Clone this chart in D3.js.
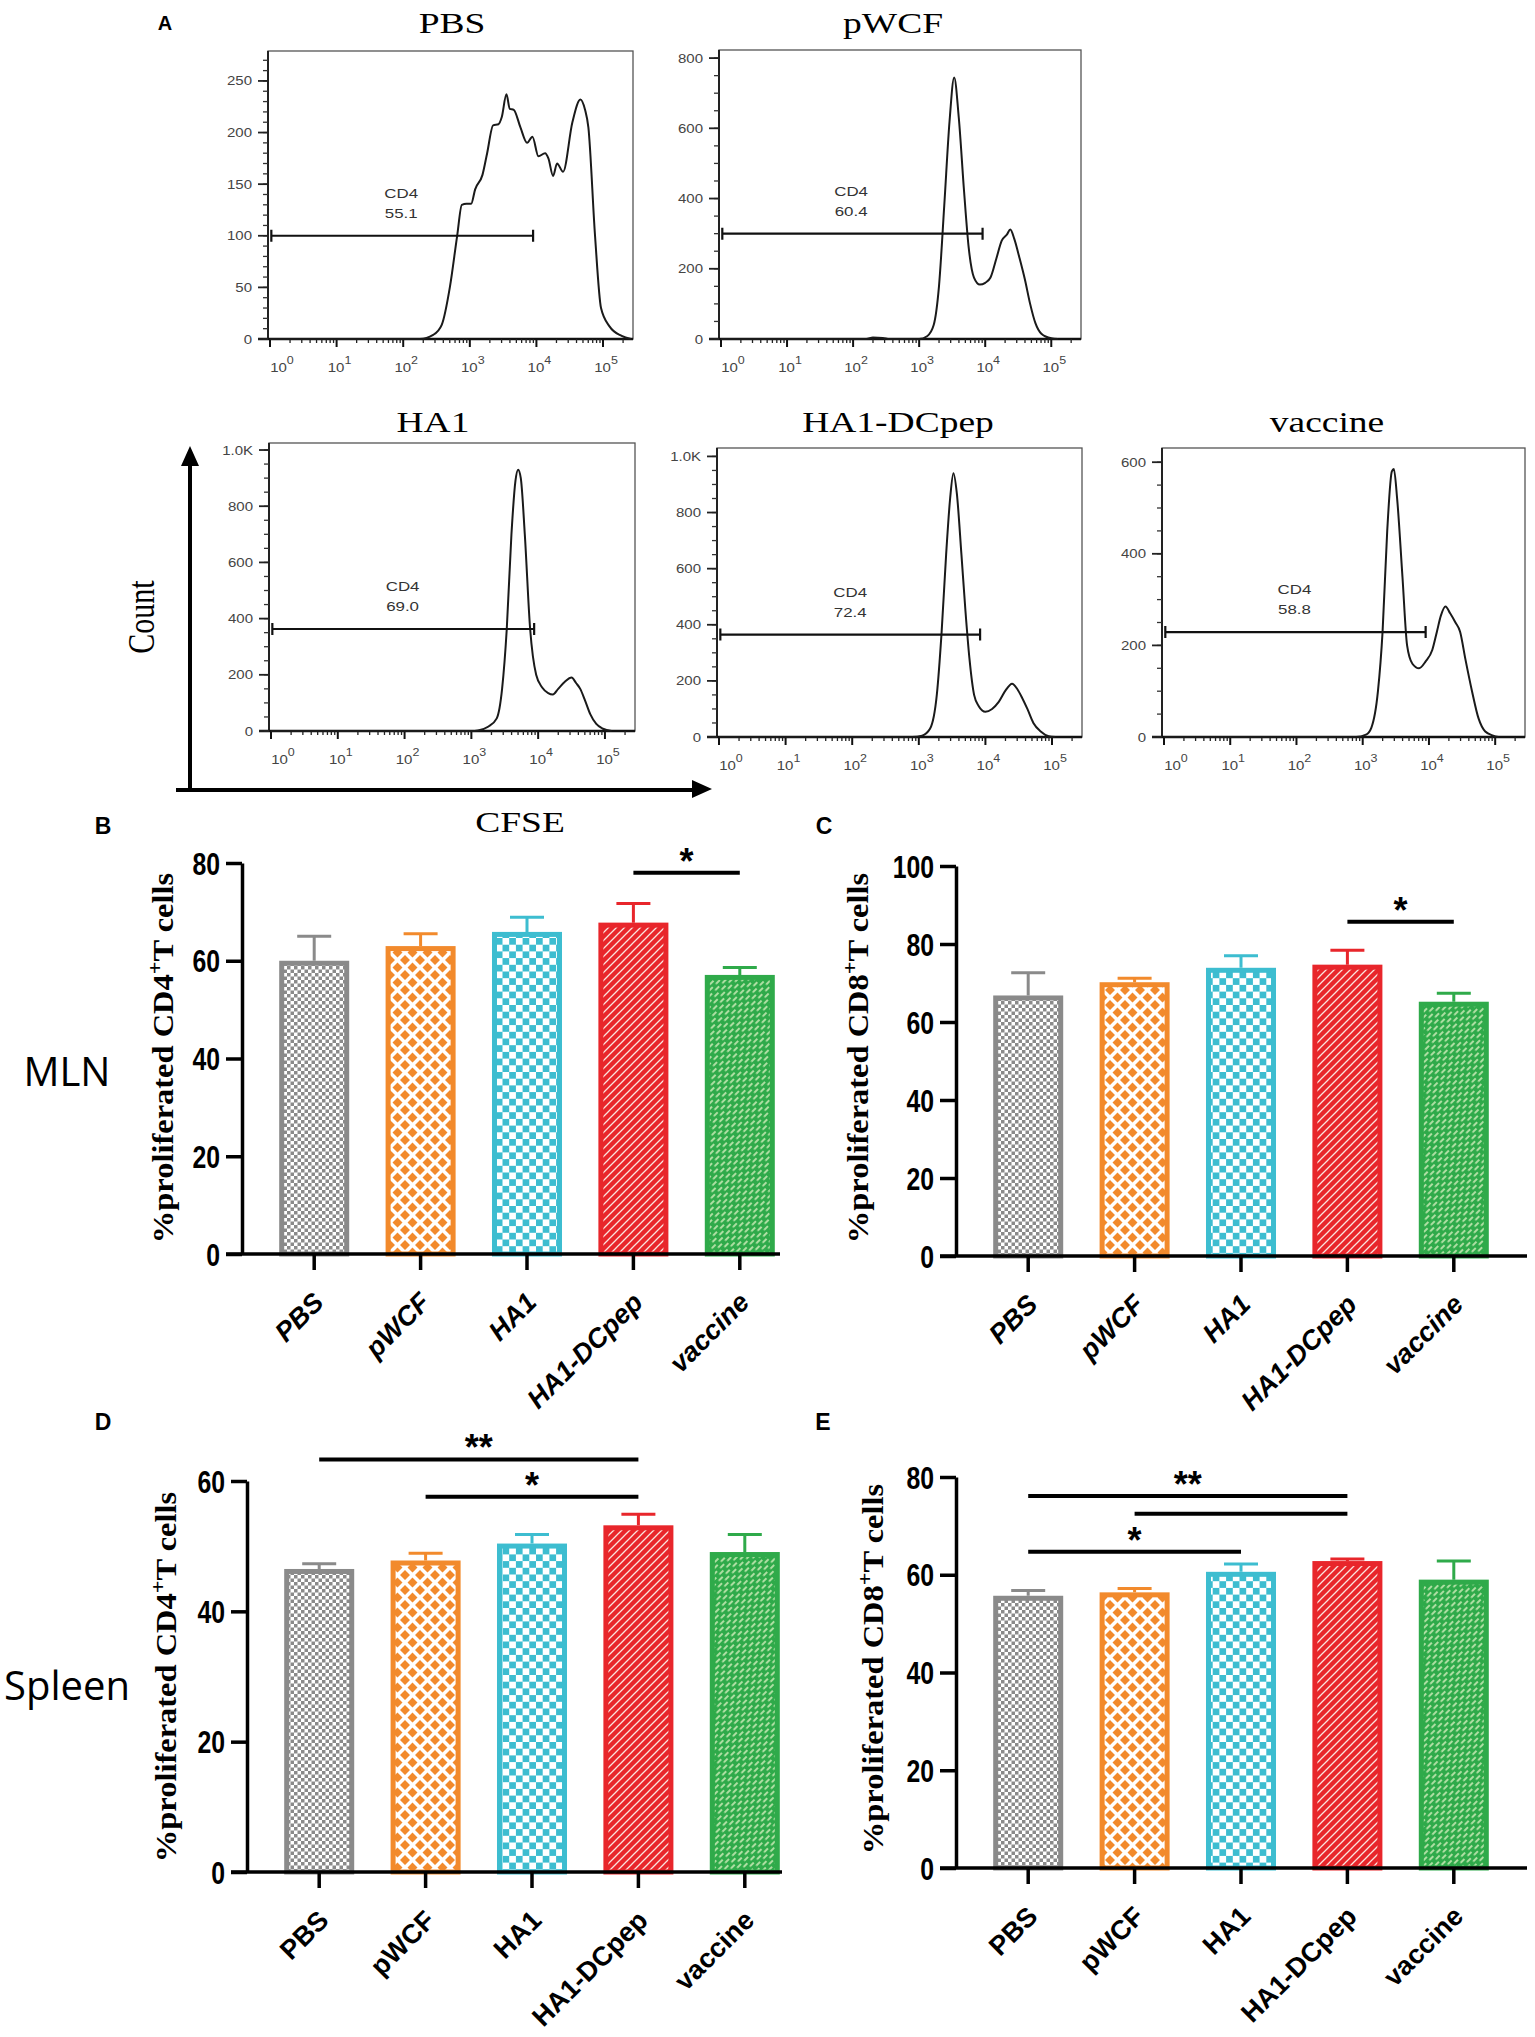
<!DOCTYPE html>
<html>
<head>
<meta charset="utf-8">
<script src="https://cdn.jsdelivr.net/npm/d3@7"></script>
<style>
  body { margin: 0; background: #fff; }
  svg { display: block; }
</style>
</head>
<body>
<svg id="fig" width="1535" height="2037"></svg>
<script>
// ---- panel A: CFSE histograms (x = log10 CFSE, y = count) ----
const histTitles = ['PBS', 'pWCF', 'HA1', 'HA1-DCpep', 'vaccine'];
const histGateName = 'CD4';
const histGatePct = ['55.1', '60.4', '69.0', '72.4', '58.8'];
const histGateCount = [100, 300, 363, 365, 229];
const histGateEnd = [3.95, 3.96, 3.94, 3.92, 3.95];
const histCountMax = [279, 823, 1025, 1030, 631];
const histCountTicks = [[0, 50, 100, 150, 200, 250], [0, 200, 400, 600, 800], [0, 200, 400, 600, 800, 1000], [0, 200, 400, 600, 800, 1000], [0, 200, 400, 600]];
const histMinorStep = [10, 50, 50, 50, 50];
const decades = [0, 1, 2, 3, 4, 5];

const histPBS = [[0, 0], [2.25, 0], [2.45, 4], [2.58, 14], [2.7, 50], [2.81, 100], [2.88, 130], [2.95, 131], [3.02, 131], [3.08, 145], [3.19, 159], [3.26, 180], [3.35, 207], [3.43, 208], [3.48, 215], [3.55, 237], [3.6, 223], [3.66, 222], [3.76, 205], [3.86, 190], [3.94, 196], [4.03, 177], [4.13, 180], [4.18, 175], [4.25, 158], [4.31, 170], [4.4, 162], [4.54, 210], [4.66, 232], [4.73, 222], [4.78, 205], [4.88, 100], [4.97, 30], [5.1, 12], [5.28, 3], [5.42, 0]];
const histPWCF = [[0, 0], [2.2, 0], [2.3, 4], [2.45, 3], [2.55, 0], [3.0, 0], [3.12, 8], [3.22, 40], [3.3, 150], [3.38, 380], [3.46, 620], [3.53, 745], [3.6, 630], [3.68, 420], [3.75, 260], [3.83, 175], [3.92, 155], [4.0, 160], [4.08, 175], [4.17, 230], [4.25, 280], [4.33, 298], [4.38, 312], [4.44, 285], [4.52, 230], [4.6, 170], [4.68, 100], [4.76, 45], [4.85, 15], [5.0, 2], [5.1, 0]];
const histHA1 = [[0, 0], [3.0, 0], [3.1, 2], [3.25, 15], [3.38, 45], [3.46, 150], [3.53, 363], [3.6, 700], [3.66, 890], [3.7, 930], [3.74, 900], [3.8, 700], [3.88, 363], [3.97, 200], [4.06, 155], [4.15, 135], [4.22, 130], [4.3, 150], [4.4, 175], [4.5, 190], [4.57, 170], [4.63, 150], [4.7, 110], [4.78, 60], [4.87, 25], [4.97, 8], [5.1, 0]];
const histDCpep = [[0, 0], [2.9, 0], [3.05, 5], [3.17, 30], [3.27, 150], [3.34, 365], [3.41, 650], [3.47, 850], [3.52, 940], [3.57, 870], [3.64, 650], [3.7, 450], [3.76, 280], [3.83, 150], [3.9, 110], [4.0, 90], [4.1, 100], [4.2, 125], [4.3, 165], [4.4, 190], [4.48, 170], [4.55, 140], [4.63, 100], [4.72, 50], [4.83, 20], [4.95, 3], [5.05, 0]];
const histVaccine = [[0, 0], [2.9, 0], [3.05, 5], [3.13, 20], [3.23, 100], [3.3, 230], [3.37, 450], [3.44, 580], [3.47, 585], [3.52, 520], [3.6, 350], [3.67, 200], [3.75, 160], [3.85, 150], [3.95, 165], [4.05, 190], [4.12, 230], [4.18, 265], [4.25, 285], [4.32, 270], [4.4, 250], [4.47, 230], [4.55, 170], [4.65, 100], [4.75, 40], [4.85, 12], [4.97, 3], [5.05, 0]];
const histSeries = [histPBS, histPWCF, histHA1, histDCpep, histVaccine];

// ---- panels B-E: % proliferated T cells, mean and SEM ----
const groups = ['PBS', 'pWCF', 'HA1', 'HA1-DCpep', 'vaccine'];
const mlnCD4Mean = [60.0, 63.0, 65.9, 67.8, 57.1];
const mlnCD4Err = [5.0, 2.5, 3.0, 3.9, 1.5];
const mlnCD8Mean = [66.8, 70.2, 73.9, 74.7, 65.2];
const mlnCD8Err = [5.8, 1.0, 3.1, 3.7, 2.2];
const spleenCD4Mean = [46.5, 47.8, 50.4, 53.2, 49.1];
const spleenCD4Err = [0.8, 1.1, 1.4, 1.7, 2.7];
const spleenCD8Mean = [55.7, 56.4, 60.6, 62.8, 59.0];
const spleenCD8Err = [1.1, 0.8, 1.6, 0.4, 3.8];
const mlnCD4Sig = [{ a: 3, b: 4, level: 78, mark: '*' }];
const mlnCD8Sig = [{ a: 3, b: 4, level: 85.7, mark: '*' }];
const spleenCD4Sig = [{ a: 0, b: 3, level: 63.3, mark: '**' }, { a: 1, b: 3, level: 57.6, mark: '*' }];
const spleenCD8Sig = [{ a: 0, b: 3, level: 76.1, mark: '**' }, { a: 1, b: 3, level: 72.5, mark: '' }, { a: 0, b: 2, level: 64.7, mark: '*' }];

const barColors = ['#8a8a8a', '#f28a2c', '#3dbdd0', '#e8262b', '#2faa4a'];

const SANS = "'Liberation Sans', Arial, sans-serif";
const SERIF = "'Liberation Serif', 'Times New Roman', serif";
const SX = 1.25; // panel A text is drawn wide in the source figure

const svg = d3.select('#fig');
svg.append('rect').attr('width', 1535).attr('height', 2037).attr('fill', '#fff');

// ---------- fill patterns ----------
const defs = svg.append('defs');
function pattern(id, w, h) {
  return defs.append('pattern').attr('id', id)
    .attr('patternUnits', 'userSpaceOnUse').attr('width', w).attr('height', h);
}
let p = pattern('pat0', 7, 7);
p.append('rect').attr('width', 7).attr('height', 7).attr('fill', '#fff');
p.append('rect').attr('width', 3.5).attr('height', 3.5).attr('fill', barColors[0]);
p.append('rect').attr('x', 3.5).attr('y', 3.5).attr('width', 3.5).attr('height', 3.5).attr('fill', barColors[0]);

p = pattern('pat1', 15, 15);
p.append('rect').attr('width', 15).attr('height', 15).attr('fill', '#fff');
p.append('path').attr('fill', barColors[1])
  .attr('d', 'M7.5,2.5 L12.5,7.5 L7.5,12.5 L2.5,7.5Z M0,-5 L5,0 L0,5 L-5,0Z M15,-5 L20,0 L15,5 L10,0Z M0,10 L5,15 L0,20 L-5,15Z M15,10 L20,15 L15,20 L10,15Z');

p = pattern('pat2', 13.4, 13.4);
p.append('rect').attr('width', 13.4).attr('height', 13.4).attr('fill', '#fff');
p.append('rect').attr('width', 6.7).attr('height', 6.7).attr('fill', barColors[2]);
p.append('rect').attr('x', 6.7).attr('y', 6.7).attr('width', 6.7).attr('height', 6.7).attr('fill', barColors[2]);

p = pattern('pat3', 8, 8);
p.append('rect').attr('width', 8).attr('height', 8).attr('fill', barColors[3]);
p.append('path').attr('stroke', '#fbe3de').attr('stroke-width', 1.3)
  .attr('d', 'M-2,2 L2,-2 M0,8 L8,0 M6,10 L10,6');

p = pattern('pat4', 10, 8).attr('patternTransform', 'rotate(-45)');
p.append('rect').attr('width', 10).attr('height', 8).attr('fill', barColors[4]);
p.append('path').attr('stroke', '#d6efbf').attr('stroke-width', 1.6).attr('fill', 'none')
  .attr('d', 'M0.5,2 L6,2 M5.5,6 L11,6 M-4.5,6 L1,6');

// ---------- helpers ----------
function wideText(g, x, y, str, size, family, anchor) {
  return g.append('text')
    .attr('transform', `translate(${x},${y}) scale(${SX},1)`)
    .attr('font-family', family).attr('font-size', size)
    .attr('text-anchor', anchor || 'middle')
    .text(str);
}

// ---------- panel A ----------
const histLayout = [
  { x: 268, y: 51, w: 365, h: 288, tx: 452, ty: 33 },
  { x: 719, y: 50, w: 362, h: 289, tx: 893, ty: 33 },
  { x: 269, y: 443, w: 366, h: 288, tx: 433, ty: 432 },
  { x: 717, y: 448, w: 365, h: 289, tx: 898, ty: 432 },
  { x: 1162, y: 448, w: 363, h: 289, tx: 1327, ty: 432 }
];

histSeries.forEach(function(series, i) {
  const box = histLayout[i];
  const g = svg.append('g').attr('class', 'hist');
  const xs = d3.scaleLog().domain([Math.pow(10, -0.03), Math.pow(10, 5.45)]).range([box.x, box.x + box.w]);
  const ys = d3.scaleLinear().domain([0, histCountMax[i]]).range([box.y + box.h, box.y]);
  const yb = box.y + box.h;

  wideText(g, box.tx, box.ty, histTitles[i], 30, SERIF);

  g.append('rect').attr('x', box.x).attr('y', box.y).attr('width', box.w).attr('height', box.h)
    .attr('fill', 'none').attr('stroke', '#555').attr('stroke-width', 1.3);
  g.append('line').attr('x1', box.x).attr('x2', box.x).attr('y1', box.y).attr('y2', yb)
    .attr('stroke', '#222').attr('stroke-width', 2);
  g.append('line').attr('x1', box.x - 10).attr('x2', box.x + box.w).attr('y1', yb).attr('y2', yb)
    .attr('stroke', '#111').attr('stroke-width', 2.6);

  // count axis
  const minor = d3.range(0, histCountMax[i], histMinorStep[i]);
  g.selectAll('line.ymin').data(minor).join('line').attr('class', 'ymin')
    .attr('x1', box.x - 5).attr('x2', box.x).attr('y1', d => ys(d)).attr('y2', d => ys(d))
    .attr('stroke', '#333').attr('stroke-width', 1.3);
  histCountTicks[i].forEach(function(v) {
    g.append('line').attr('x1', box.x - 10).attr('x2', box.x).attr('y1', ys(v)).attr('y2', ys(v))
      .attr('stroke', '#222').attr('stroke-width', 1.8);
    wideText(g, box.x - 16, ys(v) + 4.5, v >= 1000 ? (v / 1000).toFixed(1) + 'K' : String(v), 12, SANS, 'end')
      .attr('fill', '#444');
  });

  // CFSE log axis
  decades.forEach(function(k) {
    const px = xs(Math.pow(10, k));
    g.append('line').attr('x1', px).attr('x2', px).attr('y1', yb).attr('y2', yb + 8)
      .attr('stroke', '#111').attr('stroke-width', 2);
    for (let m = 2; m <= 9; m++) {
      const v = m * Math.pow(10, k);
      if (Math.log10(v) > 5.45) break;
      g.append('line').attr('x1', xs(v)).attr('x2', xs(v)).attr('y1', yb).attr('y2', yb + 4)
        .attr('stroke', '#222').attr('stroke-width', 1.3);
    }
    const t = g.append('text')
      .attr('transform', `translate(${px + (k === 0 ? 12 : 3)},${yb + 33}) scale(${SX},1)`)
      .attr('font-family', SANS).attr('font-size', 12).attr('fill', '#444')
      .attr('text-anchor', 'middle');
    t.append('tspan').text('10');
    t.append('tspan').attr('dy', -8).attr('font-size', 10).text(k);
  });

  // histogram trace
  const line = d3.line()
    .x(d => xs(Math.pow(10, d[0])))
    .y(d => ys(d[1]))
    .curve(d3.curveMonotoneX);
  g.append('path').datum(series).attr('d', line)
    .attr('fill', 'none').attr('stroke', '#1a1a1a').attr('stroke-width', 2);

  // gate
  const gy = ys(histGateCount[i]);
  const gx0 = xs(Math.pow(10, 0.02));
  const gx1 = xs(Math.pow(10, histGateEnd[i]));
  g.append('path')
    .attr('d', `M${gx0},${gy}H${gx1}M${gx0},${gy - 6}V${gy + 6}M${gx1},${gy - 6}V${gy + 6}`)
    .attr('stroke', '#111').attr('stroke-width', 2.2).attr('fill', 'none');
  const gc = xs(Math.pow(10, 1.97));
  wideText(g, gc, gy - 38, histGateName, 13.5, SANS).attr('fill', '#333');
  wideText(g, gc, gy - 18, histGatePct[i], 13.5, SANS).attr('fill', '#333');
});

// axis arrows and labels of panel A
const arrows = svg.append('g');
arrows.append('path').attr('d', 'M190,790 V462 M176,790 H697')
  .attr('stroke', '#000').attr('stroke-width', 4).attr('fill', 'none');
arrows.append('path').attr('d', 'M190,446 L181,466 L199,466Z M712,789 L692,780 L692,798Z').attr('fill', '#000');
svg.append('text')
  .attr('transform', `translate(154,617) scale(${SX},1) rotate(-90)`)
  .attr('font-family', SERIF).attr('font-size', 30).attr('text-anchor', 'middle').text('Count');
wideText(svg, 520, 832, 'CFSE', 30, SERIF);

// ---------- panels B-E ----------
const barPanels = [
  { mean: mlnCD4Mean, err: mlnCD4Err, sig: mlnCD4Sig, cell: 'CD4', yMax: 80, step: 20,
    axisX: 242, y0: 1254, yTop: 863, xEnd: 780, italic: true, labX: 173, labY: 1058 },
  { mean: mlnCD8Mean, err: mlnCD8Err, sig: mlnCD8Sig, cell: 'CD8', yMax: 100, step: 20,
    axisX: 956, y0: 1256, yTop: 866, xEnd: 1527, italic: true, labX: 868, labY: 1058 },
  { mean: spleenCD4Mean, err: spleenCD4Err, sig: spleenCD4Sig, cell: 'CD4', yMax: 60, step: 20,
    axisX: 247, y0: 1872, yTop: 1481, xEnd: 782, italic: false, labX: 176, labY: 1677 },
  { mean: spleenCD8Mean, err: spleenCD8Err, sig: spleenCD8Sig, cell: 'CD8', yMax: 80, step: 20,
    axisX: 956, y0: 1868, yTop: 1477, xEnd: 1527, italic: false, labX: 883, labY: 1669 }
];

barPanels.forEach(function(cfg) {
  const g = svg.append('g').attr('class', 'bars');
  const x = d3.scaleBand().domain(groups)
    .range([cfg.axisX + 19, cfg.axisX + 19 + 532])
    .paddingInner(0.342).paddingOuter(0.171);
  const y = d3.scaleLinear().domain([0, cfg.yMax]).range([cfg.y0, cfg.yTop]);
  const bw = x.bandwidth();
  const cx = d => x(d) + bw / 2;

  // bars
  g.selectAll('rect.bar').data(groups).join('rect').attr('class', 'bar')
    .attr('x', d => x(d) + 2.5)
    .attr('y', (d, i) => y(cfg.mean[i]) + 2.5)
    .attr('width', bw - 5)
    .attr('height', (d, i) => cfg.y0 - y(cfg.mean[i]) - 2.5)
    .attr('fill', (d, i) => `url(#pat${i})`)
    .attr('stroke', (d, i) => barColors[i])
    .attr('stroke-width', 5);

  // error bars
  g.selectAll('path.err').data(groups).join('path').attr('class', 'err')
    .attr('d', function(d, i) {
      const top = y(cfg.mean[i] + cfg.err[i]);
      return `M${cx(d)},${y(cfg.mean[i])}V${top}M${cx(d) - 17},${top}H${cx(d) + 17}`;
    })
    .attr('stroke', (d, i) => barColors[i]).attr('stroke-width', 3).attr('fill', 'none');

  // y axis
  const yAxis = g.append('g').attr('transform', `translate(${cfg.axisX},0)`)
    .call(d3.axisLeft(y).tickValues(d3.range(0, cfg.yMax + 1, cfg.step)).tickSize(16).tickSizeOuter(0));
  yAxis.select('.domain').attr('stroke', '#000').attr('stroke-width', 3.5);
  yAxis.selectAll('.tick line').attr('stroke', '#000').attr('stroke-width', 3.5);
  // the source uses a condensed bold face: squeeze Liberation Sans Bold
  yAxis.selectAll('.tick text')
    .attr('x', 0).attr('dy', '0.36em')
    .attr('transform', 'translate(-22,0) scale(0.8,1)')
    .attr('font-family', SANS).attr('font-weight', 'bold').attr('font-size', 31)
    .attr('fill', '#000');

  // x axis
  const xAxis = g.append('g').attr('transform', `translate(0,${cfg.y0})`)
    .call(d3.axisBottom(x).tickSize(16).tickSizeOuter(0));
  xAxis.select('.domain').remove();
  xAxis.selectAll('.tick line').attr('stroke', '#000').attr('stroke-width', 3.5);
  xAxis.selectAll('.tick text')
    .attr('x', 0).attr('y', 0).attr('dy', 0)
    .attr('transform', 'translate(11,50) rotate(-45)')
    .attr('text-anchor', 'end')
    .attr('font-family', SANS).attr('font-weight', 'bold').attr('font-size', 27)
    .attr('font-style', cfg.italic ? 'italic' : 'normal')
    .attr('fill', '#000');
  g.append('line').attr('x1', cfg.axisX - 16).attr('x2', cfg.xEnd).attr('y1', cfg.y0).attr('y2', cfg.y0)
    .attr('stroke', '#000').attr('stroke-width', 3.5);

  // significance brackets
  cfg.sig.forEach(function(s) {
    const ly = y(s.level);
    const x0 = cx(groups[s.a]);
    const x1 = cx(groups[s.b]);
    g.append('line').attr('x1', x0).attr('x2', x1).attr('y1', ly).attr('y2', ly)
      .attr('stroke', '#000').attr('stroke-width', 4);
    if (s.mark) {
      g.append('text').attr('x', (x0 + x1) / 2).attr('y', ly + 1)
        .attr('text-anchor', 'middle').attr('font-family', SANS).attr('font-weight', 'bold')
        .attr('font-size', 36).text(s.mark);
    }
  });

  // y label
  const lab = g.append('text')
    .attr('transform', `translate(${cfg.labX},${cfg.labY}) rotate(-90) scale(1.12,1)`)
    .attr('font-family', SERIF).attr('font-weight', 'bold').attr('font-size', 29)
    .attr('text-anchor', 'middle');
  lab.append('tspan').text('%proliferated ' + cfg.cell);
  lab.append('tspan').attr('dy', -11).attr('font-size', 20).text('+');
  lab.append('tspan').attr('dy', 11).text('T cells');
});

// panel letters and tissue labels
const letters = [['A', 165, 30, 20], ['B', 103, 834, 23], ['C', 824, 834, 23], ['D', 103, 1430, 23], ['E', 823, 1430, 23]];
letters.forEach(function(l) {
  svg.append('text').attr('x', l[1]).attr('y', l[2]).attr('text-anchor', 'middle')
    .attr('font-family', SANS).attr('font-weight', 'bold').attr('font-size', l[3]).text(l[0]);
});
svg.append('text').attr('x', 67).attr('y', 1086).attr('text-anchor', 'middle')
  .attr('font-family', "'Open Sans', 'Noto Sans', sans-serif").attr('font-size', 40).text('MLN');
svg.append('text').attr('x', 67).attr('y', 1700).attr('text-anchor', 'middle')
  .attr('font-family', "'Open Sans', 'Noto Sans', sans-serif").attr('font-size', 40).text('Spleen');
</script>
</body>
</html>
